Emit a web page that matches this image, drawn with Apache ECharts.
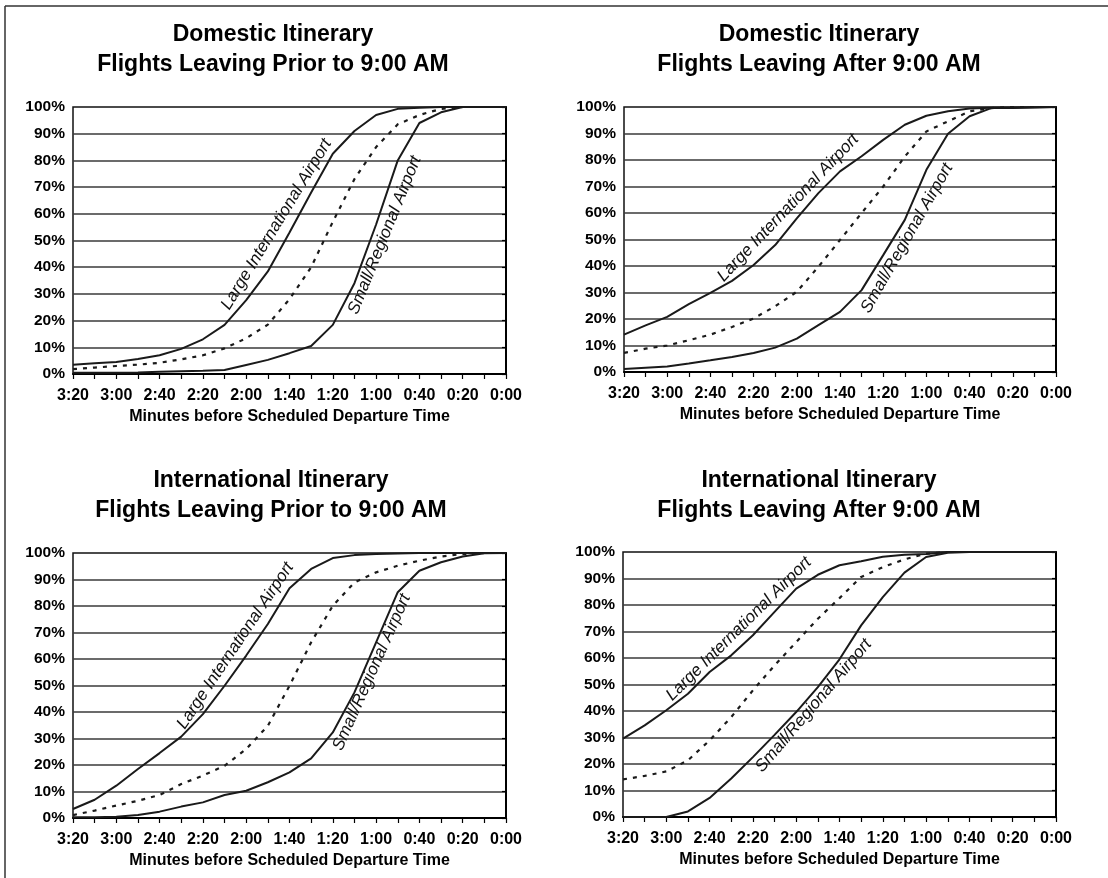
<!DOCTYPE html>
<html>
<head>
<meta charset="utf-8">
<script src="https://cdn.jsdelivr.net/npm/echarts@6/dist/echarts.min.js"></script>
<style>
  html, body { margin: 0; padding: 0; background: #fff; }
  #chart { width: 1108px; height: 878px; }
</style>
</head>
<body>
<div id="chart"></div>
<script>
// minutes before departure, 3:20 down to 0:00, every 10 minutes
const minutes = [200, 190, 180, 170, 160, 150, 140, 130, 120, 110, 100, 90, 80, 70, 60, 50, 40, 30, 20, 10, 0];

const panelTitles = [
  'Domestic Itinerary\nFlights Leaving Prior to 9:00 AM',
  'Domestic Itinerary\nFlights Leaving After 9:00 AM',
  'International Itinerary\nFlights Leaving Prior to 9:00 AM',
  'International Itinerary\nFlights Leaving After 9:00 AM'
];

// cumulative share of passengers arrived (%)
const domBeforeLarge = [3.5, 4.0, 4.5, 5.6, 7, 9.4, 13, 18.4, 27.7, 38.4, 53, 68, 82.5, 91, 97, 99.3, 99.7, 100, 100, 100, 100];
const domBeforeAvg = [1.8, 2.4, 3, 3.5, 4.2, 5.5, 7, 9.6, 13.4, 18.5, 28, 40, 57, 73, 85, 93.5, 97, 99.3, 100, 100, 100];
const domBeforeSmall = [0.5, 0.5, 0.5, 0.6, 0.8, 1, 1.2, 1.5, 3.4, 5.3, 7.8, 10.5, 18.4, 34, 56, 80, 94, 98, 100, 100, 100];

const domAfterLarge = [14.1, 17.6, 20.8, 25.6, 29.9, 34.4, 40.4, 47.9, 58, 67.5, 75.7, 81.4, 87.6, 93.3, 96.7, 98.4, 99.4, 99.7, 99.8, 99.9, 100];
const domAfterAvg = [7.2, 8.8, 10, 12, 14.1, 17, 20.2, 24.8, 30.3, 39.7, 49.8, 60, 70, 81.3, 90.8, 94.6, 98.4, 99.6, 100, 100, 100];
const domAfterSmall = [1.1, 1.6, 2.1, 3.2, 4.4, 5.7, 7.2, 9.2, 12.6, 17.7, 22.7, 30.9, 44.1, 57.4, 76.3, 89.9, 96.5, 99.6, 99.6, 99.8, 100];

const intBeforeLarge = [3.4, 6.9, 12.2, 18.5, 24.5, 30.7, 39.2, 49.9, 61.3, 73.2, 86.7, 94, 98.1, 99.2, 99.6, 99.8, 100, 100, 100, 100, 100];
const intBeforeAvg = [1.1, 2.8, 4.7, 6.5, 8.7, 12.8, 16, 19.7, 26, 34.8, 49.9, 66.3, 80.1, 88.9, 92.7, 95.2, 97.1, 98.7, 99.6, 100, 100];
const intBeforeSmall = [0.3, 0.3, 0.5, 1.1, 2.4, 4.3, 5.9, 8.7, 10.3, 13.5, 17.2, 22.5, 32.3, 47.4, 66.3, 85.2, 93.3, 96.5, 98.7, 99.9, 100];

const intAfterLarge = [29.6, 34.6, 40.3, 46.5, 54.7, 61, 68.6, 77.4, 86.2, 91.4, 95, 96.5, 98.2, 99, 99.2, 100, 100, 100, 100, 100, 100];
const intAfterAvg = [14.2, 15.5, 17.2, 21.4, 28.9, 37.7, 47.8, 57.2, 66, 74.8, 82.6, 90.6, 94.3, 97.2, 99.4, 100, 100, 100, 100, 100, 100];
const intAfterSmall = [0, 0, 0, 2.1, 7.2, 14.5, 22.6, 31, 39.6, 49, 59.5, 72.3, 83, 92.2, 98.1, 99.7, 100, 100, 100, 100, 100];

const panelData = [
  [domBeforeLarge, domBeforeAvg, domBeforeSmall],
  [domAfterLarge, domAfterAvg, domAfterSmall],
  [intBeforeLarge, intBeforeAvg, intBeforeSmall],
  [intAfterLarge, intAfterAvg, intAfterSmall]
];

const largeLabel = 'Large International Airport';
const smallLabel = 'Small/Regional Airport';

// curve labels: [minutes, percent, angle]
const largeLabelSpots = [[106, 56, 58.6], [124, 62, 46.4], [125, 65, 56.2], [146.5, 71, 44.7]];
const smallLabelSpots = [[56, 52, 67.8], [69, 50.5, 60.3], [62, 55, 66], [112, 42, 49.5]];

const FONT = '"Liberation Sans", Arial, Helvetica, sans-serif';
const LINE = '#1a1a1a';

const grids = [
  { left: 73, top: 107, width: 433, height: 267 },
  { left: 624, top: 107, width: 432, height: 265 },
  { left: 73, top: 553, width: 433, height: 265 },
  { left: 623, top: 552, width: 433, height: 265 }
];
const titlePos = [[273, 20], [819, 20], [271, 466], [819, 466]];

function fmtMinutes(m) {
  return Math.floor(m / 60) + ':' + String(m % 60).padStart(2, '0');
}

function pairs(values) {
  return values.map((v, i) => [minutes[i], v]);
}

function curveLabel(text, spot) {
  return {
    symbol: 'circle',
    symbolSize: 0,
    silent: true,
    animation: false,
    label: {
      show: true,
      position: 'inside',
      formatter: text,
      rotate: spot[2],
      fontStyle: 'italic',
      fontSize: 17,
      fontFamily: FONT,
      color: '#111'
    },
    data: [{ coord: [spot[0], spot[1]] }]
  };
}

const xAxes = grids.map((g, i) => ({
  type: 'value',
  gridIndex: i,
  min: 0,
  max: 200,
  interval: 20,
  inverse: true,
  name: 'Minutes before Scheduled Departure Time',
  nameLocation: 'middle',
  nameGap: 35,
  nameTextStyle: { fontFamily: FONT, fontWeight: 'bold', fontSize: 16, color: '#000' },
  axisLine: { lineStyle: { color: '#000', width: 2 } },
  axisTick: { show: true, length: 5, lineStyle: { color: '#000', width: 1.2 } },
  minorTick: { show: true, splitNumber: 2, length: 5, lineStyle: { color: '#000', width: 1.2 } },
  axisLabel: {
    formatter: fmtMinutes,
    margin: 14,
    fontFamily: FONT,
    fontWeight: 'bold',
    fontSize: 16,
    color: '#000'
  },
  splitLine: { show: false }
}));

const yAxes = grids.map((g, i) => ({
  type: 'value',
  gridIndex: i,
  min: 0,
  max: 100,
  interval: 10,
  axisLine: { show: true, lineStyle: { color: '#000', width: 2 } },
  axisTick: { show: true, length: 4, lineStyle: { color: '#000', width: 1.2 } },
  axisLabel: {
    formatter: '{value}%',
    margin: 8,
    fontFamily: FONT,
    fontWeight: 'bold',
    fontSize: 15.5,
    color: '#000'
  },
  splitLine: { show: true, showMaxLine: false, lineStyle: { color: '#3a3a3a', width: 1.6 } }
}));

const series = [];
panelData.forEach((lines, i) => {
  series.push({
    type: 'line', xAxisIndex: i, yAxisIndex: i, data: pairs(lines[0]),
    symbol: 'none', lineStyle: { color: LINE, width: 2 },
    markPoint: curveLabel(largeLabel, largeLabelSpots[i])
  });
  series.push({
    type: 'line', xAxisIndex: i, yAxisIndex: i, data: pairs(lines[1]),
    symbol: 'none', lineStyle: { color: LINE, width: 2.2, type: [4, 6] }
  });
  series.push({
    type: 'line', xAxisIndex: i, yAxisIndex: i, data: pairs(lines[2]),
    symbol: 'none', lineStyle: { color: LINE, width: 2 },
    markPoint: curveLabel(smallLabel, smallLabelSpots[i])
  });
});

const titles = panelTitles.map((t, i) => ({
  type: 'text',
  x: titlePos[i][0],
  y: titlePos[i][1],
  style: {
    text: t,
    textAlign: 'center',
    textVerticalAlign: 'top',
    fontFamily: FONT,
    fontWeight: 'bold',
    fontSize: 23,
    lineHeight: 30,
    fill: '#000'
  }
}));

const chart = echarts.init(document.getElementById('chart'), null, { renderer: 'canvas' });
chart.setOption({
  backgroundColor: '#fff',
  animation: false,
  grid: grids.map((g) => ({ ...g, show: true, borderColor: '#111', borderWidth: 1.5, backgroundColor: 'transparent' })),
  xAxis: xAxes,
  yAxis: yAxes,
  series,
  graphic: [
    { type: 'line', shape: { x1: 5, y1: 6, x2: 1108, y2: 6 }, style: { stroke: '#333', lineWidth: 1.5 } },
    { type: 'line', shape: { x1: 5, y1: 6, x2: 5, y2: 878 }, style: { stroke: '#333', lineWidth: 1.5 } },
    ...titles
  ]
});
window.addEventListener('resize', () => chart.resize());
</script>
</body>
</html>
